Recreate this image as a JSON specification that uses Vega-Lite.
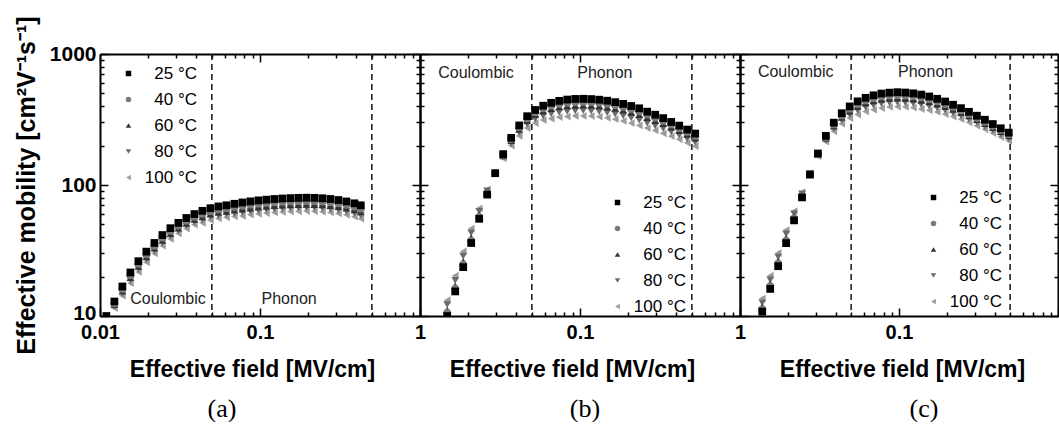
{
"$schema":"https://vega.github.io/schema/vega-lite/v6.json",
"background":"white",
"padding":{"left":14,"top":15,"right":0,"bottom":0},
"spacing":0,
"bounds":"flush",
"resolve":{"scale":{"color":"independent","shape":"independent"},"legend":{"color":"independent","shape":"independent"}},
"config":{"view":{"stroke":null},
"axis":{"domainColor":"black","domainWidth":2,"tickColor":"black","tickWidth":1.5,"labelColor":"black","labelFont":"Liberation Sans","labelFontWeight":"bold","labelFontSize":20,"labelFlush":false,"labelOverlap":false,"grid":false,"titleFont":"Liberation Sans","titleFontWeight":"bold","titleColor":"black"},
"legend":{"symbolSize":30,"labelFontSize":17,"labelFont":"Liberation Sans","labelColor":"black","labelAlign":"right","labelOffset":60,"rowPadding":8,"orient":"none"}},
"datasets":{
"cuts":[{"v":0.05},{"v":0.5}],
"labA":[{"t":"Coulombic","x":0.0266,"y":13.5},{"t":"Phonon","x":0.152,"y":13.5}],
"labB":[{"t":"Coulombic","x":0.0224,"y":720},{"t":"Phonon","x":0.143,"y":720}],
"labC":[{"t":"Coulombic","x":0.0224,"y":728},{"t":"Phonon","x":0.147,"y":728}],
"a":[
{"T":100,"x":0.01096,"y":9.3},{"T":100,"x":0.0123,"y":11.5},{"T":100,"x":0.0138,"y":14.3},{"T":100,"x":0.01549,"y":17.8},{"T":100,"x":0.01738,"y":21.7},{"T":100,"x":0.0195,"y":25.7},{"T":100,"x":0.02188,"y":30.0},{"T":100,"x":0.02455,"y":34.4},{"T":100,"x":0.02754,"y":38.8},{"T":100,"x":0.0309,"y":42.7},{"T":100,"x":0.03467,"y":46.5},{"T":100,"x":0.0389,"y":49.8},{"T":100,"x":0.04365,"y":51.4},{"T":100,"x":0.04898,"y":53.9},{"T":100,"x":0.05495,"y":55.6},{"T":100,"x":0.06166,"y":56.7},{"T":100,"x":0.06918,"y":57.5},{"T":100,"x":0.07762,"y":58.1},{"T":100,"x":0.0871,"y":59.3},{"T":100,"x":0.09772,"y":60.3},{"T":100,"x":0.1096,"y":61.1},{"T":100,"x":0.123,"y":61.8},{"T":100,"x":0.138,"y":62.3},{"T":100,"x":0.1549,"y":62.7},{"T":100,"x":0.1738,"y":63.0},{"T":100,"x":0.195,"y":63.2},{"T":100,"x":0.2188,"y":63.0},{"T":100,"x":0.2455,"y":62.6},{"T":100,"x":0.2754,"y":61.8},{"T":100,"x":0.309,"y":60.7},{"T":100,"x":0.3467,"y":59.2},{"T":100,"x":0.389,"y":57.3},{"T":100,"x":0.4266,"y":55.3},
{"T":80,"x":0.01096,"y":9.5},{"T":80,"x":0.0123,"y":11.8},{"T":80,"x":0.0138,"y":14.9},{"T":80,"x":0.01549,"y":18.7},{"T":80,"x":0.01738,"y":22.8},{"T":80,"x":0.0195,"y":27.0},{"T":80,"x":0.02188,"y":31.4},{"T":80,"x":0.02455,"y":36.1},{"T":80,"x":0.02754,"y":40.7},{"T":80,"x":0.0309,"y":44.7},{"T":80,"x":0.03467,"y":48.7},{"T":80,"x":0.0389,"y":52.2},{"T":80,"x":0.04365,"y":54.2},{"T":80,"x":0.04898,"y":56.8},{"T":80,"x":0.05495,"y":58.6},{"T":80,"x":0.06166,"y":59.8},{"T":80,"x":0.06918,"y":60.8},{"T":80,"x":0.07762,"y":61.7},{"T":80,"x":0.0871,"y":62.9},{"T":80,"x":0.09772,"y":63.9},{"T":80,"x":0.1096,"y":64.8},{"T":80,"x":0.123,"y":65.5},{"T":80,"x":0.138,"y":66.1},{"T":80,"x":0.1549,"y":66.5},{"T":80,"x":0.1738,"y":66.9},{"T":80,"x":0.195,"y":67.0},{"T":80,"x":0.2188,"y":66.9},{"T":80,"x":0.2455,"y":66.4},{"T":80,"x":0.2754,"y":65.5},{"T":80,"x":0.309,"y":64.4},{"T":80,"x":0.3467,"y":62.8},{"T":80,"x":0.389,"y":60.8},{"T":80,"x":0.4266,"y":58.7},
{"T":60,"x":0.01096,"y":9.6},{"T":60,"x":0.0123,"y":12.2},{"T":60,"x":0.0138,"y":15.5},{"T":60,"x":0.01549,"y":19.6},{"T":60,"x":0.01738,"y":23.9},{"T":60,"x":0.0195,"y":28.2},{"T":60,"x":0.02188,"y":32.9},{"T":60,"x":0.02455,"y":37.8},{"T":60,"x":0.02754,"y":42.6},{"T":60,"x":0.0309,"y":46.8},{"T":60,"x":0.03467,"y":51.0},{"T":60,"x":0.0389,"y":54.7},{"T":60,"x":0.04365,"y":57.2},{"T":60,"x":0.04898,"y":59.9},{"T":60,"x":0.05495,"y":61.7},{"T":60,"x":0.06166,"y":63.0},{"T":60,"x":0.06918,"y":64.3},{"T":60,"x":0.07762,"y":65.4},{"T":60,"x":0.0871,"y":66.7},{"T":60,"x":0.09772,"y":67.8},{"T":60,"x":0.1096,"y":68.7},{"T":60,"x":0.123,"y":69.5},{"T":60,"x":0.138,"y":70.1},{"T":60,"x":0.1549,"y":70.6},{"T":60,"x":0.1738,"y":70.9},{"T":60,"x":0.195,"y":71.1},{"T":60,"x":0.2188,"y":70.9},{"T":60,"x":0.2455,"y":70.4},{"T":60,"x":0.2754,"y":69.5},{"T":60,"x":0.309,"y":68.3},{"T":60,"x":0.3467,"y":66.6},{"T":60,"x":0.389,"y":64.5},{"T":60,"x":0.4266,"y":62.2},
{"T":40,"x":0.01096,"y":9.8},{"T":40,"x":0.0123,"y":12.5},{"T":40,"x":0.0138,"y":16.1},{"T":40,"x":0.01549,"y":20.5},{"T":40,"x":0.01738,"y":25.0},{"T":40,"x":0.0195,"y":29.6},{"T":40,"x":0.02188,"y":34.4},{"T":40,"x":0.02455,"y":39.6},{"T":40,"x":0.02754,"y":44.6},{"T":40,"x":0.0309,"y":49.0},{"T":40,"x":0.03467,"y":53.4},{"T":40,"x":0.0389,"y":57.2},{"T":40,"x":0.04365,"y":60.3},{"T":40,"x":0.04898,"y":63.1},{"T":40,"x":0.05495,"y":65.1},{"T":40,"x":0.06166,"y":66.4},{"T":40,"x":0.06918,"y":68.0},{"T":40,"x":0.07762,"y":69.4},{"T":40,"x":0.0871,"y":70.7},{"T":40,"x":0.09772,"y":72.0},{"T":40,"x":0.1096,"y":72.9},{"T":40,"x":0.123,"y":73.7},{"T":40,"x":0.138,"y":74.4},{"T":40,"x":0.1549,"y":74.9},{"T":40,"x":0.1738,"y":75.3},{"T":40,"x":0.195,"y":75.4},{"T":40,"x":0.2188,"y":75.3},{"T":40,"x":0.2455,"y":74.7},{"T":40,"x":0.2754,"y":73.7},{"T":40,"x":0.309,"y":72.4},{"T":40,"x":0.3467,"y":70.6},{"T":40,"x":0.389,"y":68.4},{"T":40,"x":0.4266,"y":66.0},
{"T":25,"x":0.01096,"y":10.0},{"T":25,"x":0.0123,"y":12.9},{"T":25,"x":0.0138,"y":16.8},{"T":25,"x":0.01549,"y":21.5},{"T":25,"x":0.01738,"y":26.2},{"T":25,"x":0.0195,"y":31.0},{"T":25,"x":0.02188,"y":36.1},{"T":25,"x":0.02455,"y":41.5},{"T":25,"x":0.02754,"y":46.8},{"T":25,"x":0.0309,"y":51.4},{"T":25,"x":0.03467,"y":56.0},{"T":25,"x":0.0389,"y":60.0},{"T":25,"x":0.04365,"y":63.5},{"T":25,"x":0.04898,"y":66.5},{"T":25,"x":0.05495,"y":68.6},{"T":25,"x":0.06166,"y":70.0},{"T":25,"x":0.06918,"y":71.9},{"T":25,"x":0.07762,"y":73.6},{"T":25,"x":0.0871,"y":75.0},{"T":25,"x":0.09772,"y":76.3},{"T":25,"x":0.1096,"y":77.3},{"T":25,"x":0.123,"y":78.2},{"T":25,"x":0.138,"y":78.9},{"T":25,"x":0.1549,"y":79.4},{"T":25,"x":0.1738,"y":79.8},{"T":25,"x":0.195,"y":80.0},{"T":25,"x":0.2188,"y":79.8},{"T":25,"x":0.2455,"y":79.2},{"T":25,"x":0.2754,"y":78.2},{"T":25,"x":0.309,"y":76.8},{"T":25,"x":0.3467,"y":74.9},{"T":25,"x":0.389,"y":72.5},{"T":25,"x":0.4266,"y":70.0}
],
"b":[
{"T":100,"x":0.01479,"y":13.2},{"T":100,"x":0.0166,"y":20.3},{"T":100,"x":0.01862,"y":31.1},{"T":100,"x":0.02089,"y":46.5},{"T":100,"x":0.02344,"y":66.4},{"T":100,"x":0.0263,"y":92.7},{"T":100,"x":0.02951,"y":123},{"T":100,"x":0.03311,"y":160},{"T":100,"x":0.03715,"y":200},{"T":100,"x":0.04169,"y":237},{"T":100,"x":0.04677,"y":272},{"T":100,"x":0.05248,"y":297},{"T":100,"x":0.05888,"y":313},{"T":100,"x":0.06607,"y":321},{"T":100,"x":0.07413,"y":329},{"T":100,"x":0.08318,"y":333},{"T":100,"x":0.09333,"y":337},{"T":100,"x":0.1047,"y":337},{"T":100,"x":0.1175,"y":336},{"T":100,"x":0.1318,"y":332},{"T":100,"x":0.1479,"y":326},{"T":100,"x":0.166,"y":318},{"T":100,"x":0.1862,"y":308},{"T":100,"x":0.2089,"y":297},{"T":100,"x":0.2344,"y":285},{"T":100,"x":0.263,"y":272},{"T":100,"x":0.2951,"y":261},{"T":100,"x":0.3311,"y":248},{"T":100,"x":0.3715,"y":236},{"T":100,"x":0.4169,"y":223},{"T":100,"x":0.4677,"y":210},{"T":100,"x":0.5248,"y":198},
{"T":80,"x":0.01479,"y":12.2},{"T":80,"x":0.0166,"y":18.7},{"T":80,"x":0.01862,"y":28.6},{"T":80,"x":0.02089,"y":43.1},{"T":80,"x":0.02344,"y":62.8},{"T":80,"x":0.0263,"y":90.2},{"T":80,"x":0.02951,"y":123},{"T":80,"x":0.03311,"y":164},{"T":80,"x":0.03715,"y":208},{"T":80,"x":0.04169,"y":251},{"T":80,"x":0.04677,"y":290},{"T":80,"x":0.05248,"y":318},{"T":80,"x":0.05888,"y":337},{"T":80,"x":0.06607,"y":349},{"T":80,"x":0.07413,"y":359},{"T":80,"x":0.08318,"y":364},{"T":80,"x":0.09333,"y":368},{"T":80,"x":0.1047,"y":369},{"T":80,"x":0.1175,"y":367},{"T":80,"x":0.1318,"y":363},{"T":80,"x":0.1479,"y":357},{"T":80,"x":0.166,"y":348},{"T":80,"x":0.1862,"y":337},{"T":80,"x":0.2089,"y":325},{"T":80,"x":0.2344,"y":312},{"T":80,"x":0.263,"y":297},{"T":80,"x":0.2951,"y":283},{"T":80,"x":0.3311,"y":269},{"T":80,"x":0.3715,"y":254},{"T":80,"x":0.4169,"y":240},{"T":80,"x":0.4677,"y":225},{"T":80,"x":0.5248,"y":212},
{"T":60,"x":0.01479,"y":11.1},{"T":60,"x":0.0166,"y":17.0},{"T":60,"x":0.01862,"y":26.1},{"T":60,"x":0.02089,"y":39.6},{"T":60,"x":0.02344,"y":59.1},{"T":60,"x":0.0263,"y":87.5},{"T":60,"x":0.02951,"y":123},{"T":60,"x":0.03311,"y":167},{"T":60,"x":0.03715,"y":218},{"T":60,"x":0.04169,"y":266},{"T":60,"x":0.04677,"y":310},{"T":60,"x":0.05248,"y":344},{"T":60,"x":0.05888,"y":367},{"T":60,"x":0.06607,"y":382},{"T":60,"x":0.07413,"y":394},{"T":60,"x":0.08318,"y":402},{"T":60,"x":0.09333,"y":406},{"T":60,"x":0.1047,"y":407},{"T":60,"x":0.1175,"y":405},{"T":60,"x":0.1318,"y":401},{"T":60,"x":0.1479,"y":393},{"T":60,"x":0.166,"y":384},{"T":60,"x":0.1862,"y":372},{"T":60,"x":0.2089,"y":359},{"T":60,"x":0.2344,"y":344},{"T":60,"x":0.263,"y":326},{"T":60,"x":0.2951,"y":310},{"T":60,"x":0.3311,"y":294},{"T":60,"x":0.3715,"y":276},{"T":60,"x":0.4169,"y":260},{"T":60,"x":0.4677,"y":243},{"T":60,"x":0.5248,"y":228},
{"T":40,"x":0.01479,"y":10.6},{"T":40,"x":0.0166,"y":16.2},{"T":40,"x":0.01862,"y":24.8},{"T":40,"x":0.02089,"y":37.7},{"T":40,"x":0.02344,"y":57.1},{"T":40,"x":0.0263,"y":86.0},{"T":40,"x":0.02951,"y":123},{"T":40,"x":0.03311,"y":170},{"T":40,"x":0.03715,"y":224},{"T":40,"x":0.04169,"y":276},{"T":40,"x":0.04677,"y":323},{"T":40,"x":0.05248,"y":359},{"T":40,"x":0.05888,"y":385},{"T":40,"x":0.06607,"y":403},{"T":40,"x":0.07413,"y":416},{"T":40,"x":0.08318,"y":425},{"T":40,"x":0.09333,"y":430},{"T":40,"x":0.1047,"y":431},{"T":40,"x":0.1175,"y":429},{"T":40,"x":0.1318,"y":424},{"T":40,"x":0.1479,"y":417},{"T":40,"x":0.166,"y":406},{"T":40,"x":0.1862,"y":394},{"T":40,"x":0.2089,"y":380},{"T":40,"x":0.2344,"y":365},{"T":40,"x":0.263,"y":345},{"T":40,"x":0.2951,"y":327},{"T":40,"x":0.3311,"y":309},{"T":40,"x":0.3715,"y":290},{"T":40,"x":0.4169,"y":272},{"T":40,"x":0.4677,"y":254},{"T":40,"x":0.5248,"y":237},
{"T":25,"x":0.01479,"y":10.0},{"T":25,"x":0.0166,"y":15.4},{"T":25,"x":0.01862,"y":23.6},{"T":25,"x":0.02089,"y":36.1},{"T":25,"x":0.02344,"y":55.2},{"T":25,"x":0.0263,"y":84.5},{"T":25,"x":0.02951,"y":123},{"T":25,"x":0.03311,"y":172},{"T":25,"x":0.03715,"y":229},{"T":25,"x":0.04169,"y":285},{"T":25,"x":0.04677,"y":335},{"T":25,"x":0.05248,"y":374},{"T":25,"x":0.05888,"y":403},{"T":25,"x":0.06607,"y":424},{"T":25,"x":0.07413,"y":439},{"T":25,"x":0.08318,"y":449},{"T":25,"x":0.09333,"y":454},{"T":25,"x":0.1047,"y":455},{"T":25,"x":0.1175,"y":453},{"T":25,"x":0.1318,"y":448},{"T":25,"x":0.1479,"y":440},{"T":25,"x":0.166,"y":429},{"T":25,"x":0.1862,"y":416},{"T":25,"x":0.2089,"y":401},{"T":25,"x":0.2344,"y":385},{"T":25,"x":0.263,"y":363},{"T":25,"x":0.2951,"y":344},{"T":25,"x":0.3311,"y":324},{"T":25,"x":0.3715,"y":303},{"T":25,"x":0.4169,"y":284},{"T":25,"x":0.4677,"y":265},{"T":25,"x":0.5248,"y":247}
],
"c":[
{"T":100,"x":0.0138,"y":13.6},{"T":100,"x":0.01549,"y":20.3},{"T":100,"x":0.01738,"y":30.3},{"T":100,"x":0.0195,"y":45.3},{"T":100,"x":0.02188,"y":63.1},{"T":100,"x":0.02455,"y":88.1},{"T":100,"x":0.02754,"y":123},{"T":100,"x":0.0309,"y":166},{"T":100,"x":0.03467,"y":214},{"T":100,"x":0.0389,"y":257},{"T":100,"x":0.04365,"y":294},{"T":100,"x":0.04898,"y":324},{"T":100,"x":0.05495,"y":345},{"T":100,"x":0.06166,"y":364},{"T":100,"x":0.06918,"y":376},{"T":100,"x":0.07762,"y":387},{"T":100,"x":0.0871,"y":394},{"T":100,"x":0.09772,"y":396},{"T":100,"x":0.1096,"y":395},{"T":100,"x":0.123,"y":389},{"T":100,"x":0.138,"y":380},{"T":100,"x":0.1549,"y":372},{"T":100,"x":0.1738,"y":361},{"T":100,"x":0.195,"y":348},{"T":100,"x":0.2188,"y":333},{"T":100,"x":0.2455,"y":318},{"T":100,"x":0.2754,"y":301},{"T":100,"x":0.309,"y":283},{"T":100,"x":0.3467,"y":266},{"T":100,"x":0.389,"y":249},{"T":100,"x":0.4365,"y":232},{"T":100,"x":0.4898,"y":217},
{"T":80,"x":0.0138,"y":12.6},{"T":80,"x":0.01549,"y":18.9},{"T":80,"x":0.01738,"y":28.2},{"T":80,"x":0.0195,"y":42.3},{"T":80,"x":0.02188,"y":60.1},{"T":80,"x":0.02455,"y":85.7},{"T":80,"x":0.02754,"y":122},{"T":80,"x":0.0309,"y":168},{"T":80,"x":0.03467,"y":221},{"T":80,"x":0.0389,"y":269},{"T":80,"x":0.04365,"y":311},{"T":80,"x":0.04898,"y":344},{"T":80,"x":0.05495,"y":370},{"T":80,"x":0.06166,"y":391},{"T":80,"x":0.06918,"y":406},{"T":80,"x":0.07762,"y":418},{"T":80,"x":0.0871,"y":425},{"T":80,"x":0.09772,"y":428},{"T":80,"x":0.1096,"y":426},{"T":80,"x":0.123,"y":420},{"T":80,"x":0.138,"y":410},{"T":80,"x":0.1549,"y":400},{"T":80,"x":0.1738,"y":387},{"T":80,"x":0.195,"y":372},{"T":80,"x":0.2188,"y":355},{"T":80,"x":0.2455,"y":337},{"T":80,"x":0.2754,"y":318},{"T":80,"x":0.309,"y":299},{"T":80,"x":0.3467,"y":279},{"T":80,"x":0.389,"y":261},{"T":80,"x":0.4365,"y":243},{"T":80,"x":0.4898,"y":227},
{"T":60,"x":0.0138,"y":11.8},{"T":60,"x":0.01549,"y":17.7},{"T":60,"x":0.01738,"y":26.4},{"T":60,"x":0.0195,"y":39.4},{"T":60,"x":0.02188,"y":57.3},{"T":60,"x":0.02455,"y":83.4},{"T":60,"x":0.02754,"y":121},{"T":60,"x":0.0309,"y":171},{"T":60,"x":0.03467,"y":228},{"T":60,"x":0.0389,"y":281},{"T":60,"x":0.04365,"y":328},{"T":60,"x":0.04898,"y":366},{"T":60,"x":0.05495,"y":396},{"T":60,"x":0.06166,"y":421},{"T":60,"x":0.06918,"y":438},{"T":60,"x":0.07762,"y":451},{"T":60,"x":0.0871,"y":458},{"T":60,"x":0.09772,"y":461},{"T":60,"x":0.1096,"y":459},{"T":60,"x":0.123,"y":453},{"T":60,"x":0.138,"y":443},{"T":60,"x":0.1549,"y":431},{"T":60,"x":0.1738,"y":415},{"T":60,"x":0.195,"y":397},{"T":60,"x":0.2188,"y":378},{"T":60,"x":0.2455,"y":357},{"T":60,"x":0.2754,"y":337},{"T":60,"x":0.309,"y":315},{"T":60,"x":0.3467,"y":294},{"T":60,"x":0.389,"y":274},{"T":60,"x":0.4365,"y":255},{"T":60,"x":0.4898,"y":237},
{"T":40,"x":0.0138,"y":11.3},{"T":40,"x":0.01549,"y":16.9},{"T":40,"x":0.01738,"y":25.2},{"T":40,"x":0.0195,"y":37.7},{"T":40,"x":0.02188,"y":55.5},{"T":40,"x":0.02455,"y":81.8},{"T":40,"x":0.02754,"y":121},{"T":40,"x":0.0309,"y":172},{"T":40,"x":0.03467,"y":232},{"T":40,"x":0.0389,"y":290},{"T":40,"x":0.04365,"y":340},{"T":40,"x":0.04898,"y":382},{"T":40,"x":0.05495,"y":415},{"T":40,"x":0.06166,"y":442},{"T":40,"x":0.06918,"y":460},{"T":40,"x":0.07762,"y":474},{"T":40,"x":0.0871,"y":482},{"T":40,"x":0.09772,"y":485},{"T":40,"x":0.1096,"y":483},{"T":40,"x":0.123,"y":476},{"T":40,"x":0.138,"y":466},{"T":40,"x":0.1549,"y":452},{"T":40,"x":0.1738,"y":435},{"T":40,"x":0.195,"y":415},{"T":40,"x":0.2188,"y":394},{"T":40,"x":0.2455,"y":372},{"T":40,"x":0.2754,"y":349},{"T":40,"x":0.309,"y":326},{"T":40,"x":0.3467,"y":304},{"T":40,"x":0.389,"y":283},{"T":40,"x":0.4365,"y":263},{"T":40,"x":0.4898,"y":244},
{"T":25,"x":0.0138,"y":10.8},{"T":25,"x":0.01549,"y":16.1},{"T":25,"x":0.01738,"y":24.0},{"T":25,"x":0.0195,"y":36.0},{"T":25,"x":0.02188,"y":53.7},{"T":25,"x":0.02455,"y":80.4},{"T":25,"x":0.02754,"y":120},{"T":25,"x":0.0309,"y":174},{"T":25,"x":0.03467,"y":237},{"T":25,"x":0.0389,"y":299},{"T":25,"x":0.04365,"y":353},{"T":25,"x":0.04898,"y":398},{"T":25,"x":0.05495,"y":435},{"T":25,"x":0.06166,"y":463},{"T":25,"x":0.06918,"y":484},{"T":25,"x":0.07762,"y":499},{"T":25,"x":0.0871,"y":507},{"T":25,"x":0.09772,"y":511},{"T":25,"x":0.1096,"y":508},{"T":25,"x":0.123,"y":501},{"T":25,"x":0.138,"y":490},{"T":25,"x":0.1549,"y":474},{"T":25,"x":0.1738,"y":455},{"T":25,"x":0.195,"y":434},{"T":25,"x":0.2188,"y":410},{"T":25,"x":0.2455,"y":386},{"T":25,"x":0.2754,"y":362},{"T":25,"x":0.309,"y":338},{"T":25,"x":0.3467,"y":315},{"T":25,"x":0.389,"y":292},{"T":25,"x":0.4365,"y":271},{"T":25,"x":0.4898,"y":251}
]
},
"hconcat":[
{"width":320,"height":262,
"title":{"text":"(a)","orient":"bottom","font":"Liberation Serif","fontSize":26,"fontWeight":"normal","color":"black","dx":-38,"offset":15},
"resolve":{"axis":{"x":"independent","y":"independent"}},
"layer":[
{"data":{"name":"cuts"},"mark":{"type":"rule","strokeDash":[6,4],"strokeWidth":1.6,"color":"#222222"},
"encoding":{"x":{"field":"v","type":"quantitative","scale":{"type":"log","domain":[0.01,1],"nice":false},"axis":null}}},
{"data":{"name":"a"},"mark":{"type":"point","filled":true,"size":60,"opacity":1,"clip":true},
"encoding":{
"x":{"field":"x","type":"quantitative","scale":{"type":"log","domain":[0.01,1],"nice":false},
"axis":{"orient":"bottom","values":[0.01,0.02,0.03,0.04,0.05,0.06,0.07,0.08,0.09,0.1,0.2,0.3,0.4,0.5,0.6,0.7,0.8,0.9,1],"labelExpr":"datum.value==0.01?'0.01':datum.value==0.1?'0.1':datum.value==1?'1':''","tickSize":{"condition":{"test":"datum.value==0.01||datum.value==0.1||datum.value==1","value":-8},"value":-4},"labelPadding":14,"title":"Effective field [MV/cm]","titleFontSize":23,"titleX":152,"titlePadding":12}},
"y":{"field":"y","type":"quantitative","scale":{"type":"log","domain":[10,1000],"nice":false},
"axis":{"orient":"left","values":[10,20,30,40,50,60,70,80,90,100,200,300,400,500,600,700,800,900,1000],"labelExpr":"datum.value==10?'10':datum.value==100?'100':datum.value==1000?'1000':''","labelOffset":{"condition":{"test":"datum.value==10","value":-3},"value":0},"tickSize":{"condition":{"test":"datum.value==10||datum.value==100||datum.value==1000","value":-8},"value":-4},"labelPadding":12,"labelFontSize":21,"title":"Effective mobility [cm²V⁻¹s⁻¹]","titleFontSize":25,"titlePadding":10}},
"color":{"field":"T","type":"ordinal","scale":{"domain":[25,40,60,80,100],"range":["#000000","#7a7a7a","#333333","#6a6a6a","#9c9c9c"]},
"legend":{"legendX":20,"legendY":11,"title":null,"labelExpr":"datum.label + ' °C'"}},
"shape":{"field":"T","type":"ordinal","scale":{"domain":[25,40,60,80,100],"range":["square","circle","triangle-up","triangle-down","triangle-left"]},
"legend":{"legendX":20,"legendY":11,"title":null,"labelExpr":"datum.label + ' °C'"}}
}},
{"data":{"name":"labA"},"mark":{"type":"text","fontSize":16,"font":"Liberation Sans","color":"#222222"},
"encoding":{
"x":{"field":"x","type":"quantitative","scale":{"type":"log","domain":[0.01,1],"nice":false},"axis":{"orient":"top","values":[0.01,0.02,0.03,0.04,0.05,0.06,0.07,0.08,0.09,0.1,0.2,0.3,0.4,0.5,0.6,0.7,0.8,0.9,1],"labels":false,"title":null,"tickSize":{"condition":{"test":"datum.value==0.01||datum.value==0.1||datum.value==1","value":-8},"value":-4}}},
"y":{"field":"y","type":"quantitative","scale":{"type":"log","domain":[10,1000],"nice":false},"axis":{"orient":"right","values":[10,20,30,40,50,60,70,80,90,100,200,300,400,500,600,700,800,900,1000],"labels":false,"title":null,"tickSize":{"condition":{"test":"datum.value==10||datum.value==100||datum.value==1000","value":-8},"value":-4}}},
"text":{"field":"t"}}}
]},
{"width":320,"height":262,
"title":{"text":"(b)","orient":"bottom","font":"Liberation Serif","fontSize":26,"fontWeight":"normal","color":"black","dx":5,"offset":15},
"resolve":{"axis":{"x":"independent","y":"independent"}},
"layer":[
{"data":{"name":"cuts"},"mark":{"type":"rule","strokeDash":[6,4],"strokeWidth":1.6,"color":"#222222"},
"encoding":{"x":{"field":"v","type":"quantitative","scale":{"type":"log","domain":[0.01,1],"nice":false},"axis":null}}},
{"data":{"name":"b"},"mark":{"type":"point","filled":true,"size":60,"opacity":1,"clip":true},
"encoding":{
"x":{"field":"x","type":"quantitative","scale":{"type":"log","domain":[0.01,1],"nice":false},
"axis":{"orient":"bottom","values":[0.01,0.02,0.03,0.04,0.05,0.06,0.07,0.08,0.09,0.1,0.2,0.3,0.4,0.5,0.6,0.7,0.8,0.9,1],"labelExpr":"datum.value==0.1?'0.1':datum.value==1?'1':''","tickSize":{"condition":{"test":"datum.value==0.01||datum.value==0.1||datum.value==1","value":-8},"value":-4},"labelPadding":14,"title":"Effective field [MV/cm]","titleFontSize":23,"titleX":152,"titlePadding":12}},
"y":{"field":"y","type":"quantitative","scale":{"type":"log","domain":[10,1000],"nice":false},
"axis":{"orient":"left","values":[10,20,30,40,50,60,70,80,90,100,200,300,400,500,600,700,800,900,1000],"labels":false,"title":null,"tickSize":{"condition":{"test":"datum.value==10||datum.value==100||datum.value==1000","value":-8},"value":-4}}},
"color":{"field":"T","type":"ordinal","scale":{"domain":[25,40,60,80,100],"range":["#000000","#7a7a7a","#333333","#6a6a6a","#9c9c9c"]},
"legend":{"legendX":189,"legendY":140,"title":null,"labelExpr":"datum.label + ' °C'"}},
"shape":{"field":"T","type":"ordinal","scale":{"domain":[25,40,60,80,100],"range":["square","circle","triangle-up","triangle-down","triangle-left"]},
"legend":{"legendX":189,"legendY":140,"title":null,"labelExpr":"datum.label + ' °C'"}}
}},
{"data":{"name":"labB"},"mark":{"type":"text","fontSize":16,"font":"Liberation Sans","color":"#222222"},
"encoding":{
"x":{"field":"x","type":"quantitative","scale":{"type":"log","domain":[0.01,1],"nice":false},"axis":{"orient":"top","values":[0.01,0.02,0.03,0.04,0.05,0.06,0.07,0.08,0.09,0.1,0.2,0.3,0.4,0.5,0.6,0.7,0.8,0.9,1],"labels":false,"title":null,"tickSize":{"condition":{"test":"datum.value==0.01||datum.value==0.1||datum.value==1","value":-8},"value":-4}}},
"y":{"field":"y","type":"quantitative","scale":{"type":"log","domain":[10,1000],"nice":false},"axis":{"orient":"right","values":[10,20,30,40,50,60,70,80,90,100,200,300,400,500,600,700,800,900,1000],"labels":false,"title":null,"tickSize":{"condition":{"test":"datum.value==10||datum.value==100||datum.value==1000","value":-8},"value":-4}}},
"text":{"field":"t"}}}
]},
{"width":318,"height":262,
"title":{"text":"(c)","orient":"bottom","font":"Liberation Serif","fontSize":26,"fontWeight":"normal","color":"black","dx":25,"offset":15},
"resolve":{"axis":{"x":"independent","y":"independent"}},
"layer":[
{"data":{"name":"cuts"},"mark":{"type":"rule","strokeDash":[6,4],"strokeWidth":1.6,"color":"#222222"},
"encoding":{"x":{"field":"v","type":"quantitative","scale":{"type":"log","domain":[0.01,1],"nice":false},"axis":null}}},
{"data":{"name":"c"},"mark":{"type":"point","filled":true,"size":60,"opacity":1,"clip":true},
"encoding":{
"x":{"field":"x","type":"quantitative","scale":{"type":"log","domain":[0.01,1],"nice":false},
"axis":{"orient":"bottom","values":[0.01,0.02,0.03,0.04,0.05,0.06,0.07,0.08,0.09,0.1,0.2,0.3,0.4,0.5,0.6,0.7,0.8,0.9,1],"labelExpr":"datum.value==0.1?'0.1':''","tickSize":{"condition":{"test":"datum.value==0.01||datum.value==0.1||datum.value==1","value":-8},"value":-4},"labelPadding":14,"title":"Effective field [MV/cm]","titleFontSize":23,"titleX":162,"titlePadding":12}},
"y":{"field":"y","type":"quantitative","scale":{"type":"log","domain":[10,1000],"nice":false},
"axis":{"orient":"left","values":[10,20,30,40,50,60,70,80,90,100,200,300,400,500,600,700,800,900,1000],"labels":false,"title":null,"tickSize":{"condition":{"test":"datum.value==10||datum.value==100||datum.value==1000","value":-8},"value":-4}}},
"color":{"field":"T","type":"ordinal","scale":{"domain":[25,40,60,80,100],"range":["#000000","#7a7a7a","#333333","#6a6a6a","#9c9c9c"]},
"legend":{"legendX":185,"legendY":135,"title":null,"labelExpr":"datum.label + ' °C'"}},
"shape":{"field":"T","type":"ordinal","scale":{"domain":[25,40,60,80,100],"range":["square","circle","triangle-up","triangle-down","triangle-left"]},
"legend":{"legendX":185,"legendY":135,"title":null,"labelExpr":"datum.label + ' °C'"}}
}},
{"data":{"name":"labC"},"mark":{"type":"text","fontSize":16,"font":"Liberation Sans","color":"#222222"},
"encoding":{
"x":{"field":"x","type":"quantitative","scale":{"type":"log","domain":[0.01,1],"nice":false},"axis":{"orient":"top","values":[0.01,0.02,0.03,0.04,0.05,0.06,0.07,0.08,0.09,0.1,0.2,0.3,0.4,0.5,0.6,0.7,0.8,0.9,1],"labels":false,"title":null,"tickSize":{"condition":{"test":"datum.value==0.01||datum.value==0.1||datum.value==1","value":-8},"value":-4}}},
"y":{"field":"y","type":"quantitative","scale":{"type":"log","domain":[10,1000],"nice":false},"axis":{"orient":"right","values":[10,20,30,40,50,60,70,80,90,100,200,300,400,500,600,700,800,900,1000],"labels":false,"title":null,"tickSize":{"condition":{"test":"datum.value==10||datum.value==100||datum.value==1000","value":-8},"value":-4}}},
"text":{"field":"t"}}}
]}
]
}
